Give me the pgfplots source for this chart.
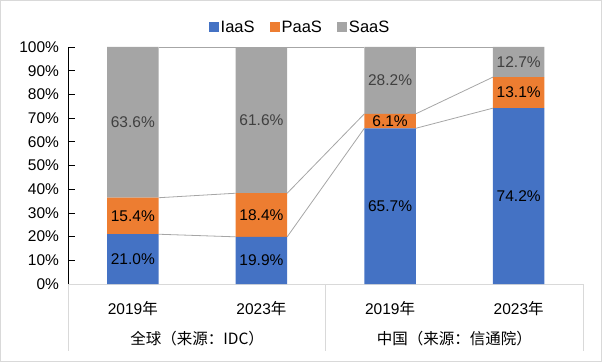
\documentclass[border=0pt]{standalone}
\usepackage{pgfplots}
\pgfplotsset{compat=1.18}
\usepackage{fontspec}
\setmainfont{Liberation Sans}
\newfontfamily\cjk{Noto Sans CJK SC}
\definecolor{iaas}{HTML}{4472C4}
\definecolor{paas}{HTML}{ED7D31}
\definecolor{saas}{HTML}{A5A5A5}
\definecolor{lgray}{HTML}{D9D9D9}
\definecolor{sline}{HTML}{A6A6A6}
\definecolor{lbl}{HTML}{404040}
\newcommand\fs{\fontsize{15.5}{18}\selectfont}
\pgfplotsset{
  common/.style={
    at={(68.5pt,78pt)}, anchor=south west,
    scale only axis, width=514.5pt, height=237pt,
    xmin=-0.5, xmax=3.5, ymin=0, ymax=100,
    clip=false,
  }
}
\begin{document}
\begin{tikzpicture}[x=1pt,y=1pt]
\path[use as bounding box] (0,0) rectangle (602,362);
\draw[lgray, line width=1pt] (0.5,0.5) rectangle (601.5,361.5);
% series lines (background)
\begin{axis}[common, hide axis]
\addplot[sline, line width=0.8pt, unbounded coords=jump, forget plot] coordinates
  {(0.2,21.0) (0.8,19.9) (0.8,nan) (1.2,19.9) (1.8,65.7) (1.8,nan) (2.2,65.7) (2.8,74.2)};
\addplot[sline, line width=0.8pt, unbounded coords=jump, forget plot] coordinates
  {(0.2,36.4) (0.8,38.3) (0.8,nan) (1.2,38.3) (1.8,71.8) (1.8,nan) (2.2,71.8) (2.8,87.3)};
\addplot[sline, line width=0.8pt, unbounded coords=jump, forget plot] coordinates
  {(0.2,100) (0.8,100) (0.8,nan) (1.2,100) (1.8,100) (1.8,nan) (2.2,100) (2.8,100)};
\end{axis}
% bars
\begin{axis}[common,
  ybar stacked, bar width=0.4,
  axis x line*=bottom, axis y line*=left,
  x axis line style={lgray, line width=1pt},
  y axis line style={black, line width=0.8pt},
  xtick={0,1,2,3},
  xticklabels={2019{\cjk 年},2023{\cjk 年},2019{\cjk 年},2023{\cjk 年}},
  xticklabel style={font=\fs, anchor=center, yshift=-25pt},
  x tick style={draw=none},
  ytick={0,10,...,100},
  yticklabels={0\%,10\%,20\%,30\%,40\%,50\%,60\%,70\%,80\%,90\%,100\%},
  yticklabel style={font=\fs, xshift=-6pt},
  y tick style={black, line width=0.8pt},
  tick align=inside, major tick length=6pt,
  legend style={at={(0.45,1.084)}, anchor=center, draw=none, fill=none,
    font=\fontsize{16.5}{19}\selectfont, legend columns=3,
    /tikz/every even column/.append style={column sep=13pt},
    legend cell align=left},
  legend image code/.code={\draw[#1,draw=none] (0pt,-5pt) rectangle (10pt,5pt);},
]
\addplot[fill=iaas, draw=none] coordinates {(0,21.0) (1,19.9) (2,65.7) (3,74.2)};
\addplot[fill=paas, draw=none] coordinates {(0,15.4) (1,18.4) (2,6.1) (3,13.1)};
\addplot[fill=saas, draw=none] coordinates {(0,63.6) (1,61.6) (2,28.2) (3,12.7)};
\legend{IaaS,PaaS,SaaS}
\draw[lgray, line width=1pt] (rel axis cs:0.5,0) -- ++(0pt,-67pt);
\draw[lgray, line width=1pt] (rel axis cs:1,0) -- ++(0pt,-67pt);
\draw[lgray, line width=1pt] (rel axis cs:0,0) -- ++(0pt,-67pt);
\node[font=\fs\cjk, yshift=-55pt] at (rel axis cs:0.25,0) {全球（来源：IDC）};
\node[font=\fs\cjk, yshift=-55pt] at (rel axis cs:0.75,0) {中国（来源：信通院）};
\end{axis}
% data labels at segment midpoints
\begin{axis}[common, hide axis,
  point meta=explicit symbolic,
  nodes near coords, nodes near coords align={center},
  every node near coord/.style={font=\fs, anchor=center, inner sep=0pt}]
\addplot[only marks, mark=none, every node near coord/.append style={text=black}] coordinates
  {(0,10.5)[21.0\%] (1,9.95)[19.9\%] (2,32.85)[65.7\%] (3,37.1)[74.2\%]};
\addplot[only marks, mark=none, every node near coord/.append style={text=black}] coordinates
  {(0,28.7)[15.4\%] (1,29.1)[18.4\%] (2,68.75)[6.1\%] (3,80.75)[13.1\%]};
\addplot[only marks, mark=none, every node near coord/.append style={text=lbl}] coordinates
  {(0,68.2)[63.6\%] (1,69.2)[61.6\%] (2,85.9)[28.2\%] (3,93.65)[12.7\%]};
\end{axis}
\end{tikzpicture}
\end{document}
